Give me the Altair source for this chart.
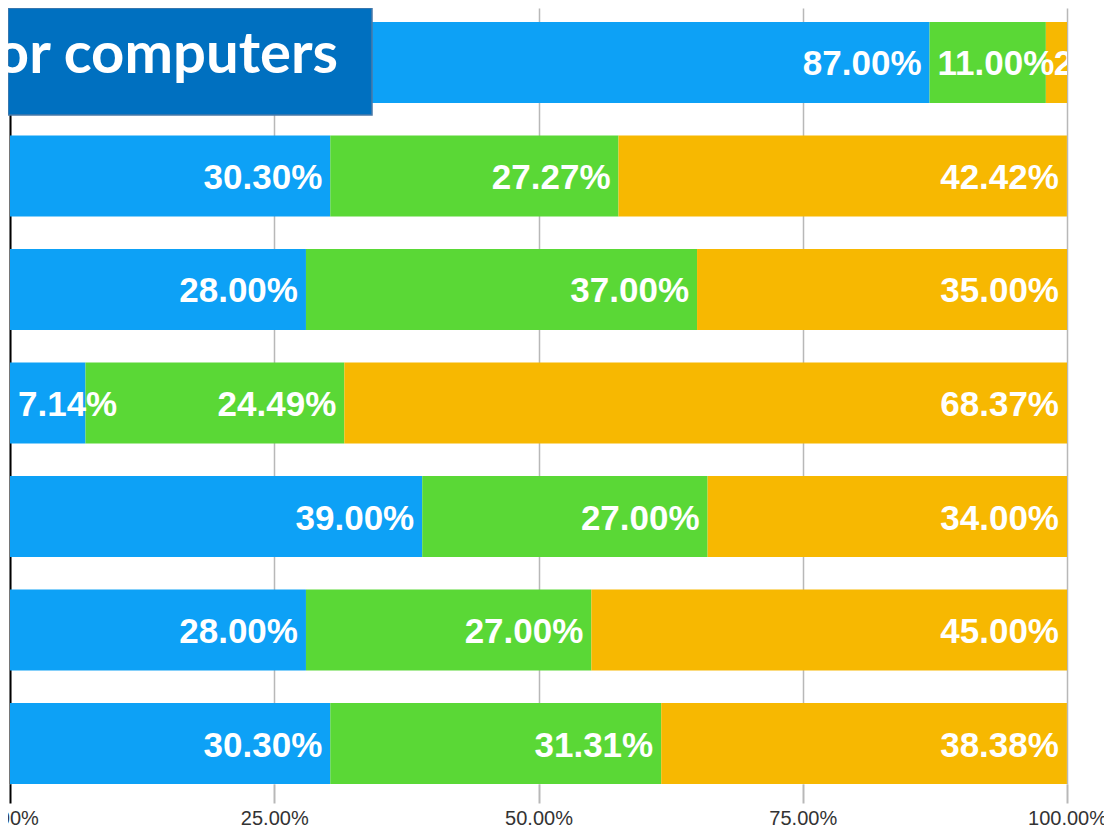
import altair as alt
import pandas as pd

rows = ["Row 1", "Row 2", "Row 3", "Row 4", "Row 5", "Row 6", "Row 7"]
series = ["A", "B", "C"]
vals_a = [87.00, 30.30, 28.00, 7.14, 39.00, 28.00, 30.30]
vals_b = [11.00, 27.27, 37.00, 24.49, 27.00, 27.00, 31.31]
vals_c = [2.00, 42.42, 35.00, 68.37, 34.00, 45.00, 38.38]
colors = ["#0DA1F6", "#5AD836", "#F7B801"]
tick_values = [0, 25, 50, 75, 100]
title_text = "or computers"

recs = []
for i, r in enumerate(rows):
    start = 0.0
    for s, arr in zip(series, [vals_a, vals_b, vals_c]):
        v = arr[i]
        recs.append({"row": r, "series": s, "value": v, "start": start,
                     "end": start + v, "label": f"{v:.2f}%"})
        start += v
df = pd.DataFrame(recs)

W, H = 1057, 776

xscale = alt.Scale(domain=[0, 100], nice=False, zero=True)
yscale = alt.Scale(paddingInner=0.287, paddingOuter=0.0616, align=1)

xaxis = alt.Axis(
    values=tick_values,
    labelExpr="format(datum.value, '.2f') + '%'",
    grid=True, gridColor="#b8b8b8", gridWidth=1.5,
    domain=False,
    tickColor={"condition": {"test": "datum.value === 0", "value": "#000000"}, "value": "#b8b8b8"},
    tickWidth=2, tickSize=19,
    labelFontSize=20, labelColor="#333333", labelFont="Liberation Sans",
    labelPadding=5, labelFlush=False, labelOverlap=False, title=None,
)
yaxis = alt.Axis(labels=False, ticks=False, title=None, grid=False,
                 domainColor="#000000", domainWidth=2)

bars = alt.Chart(df).mark_bar().encode(
    x=alt.X("start:Q", scale=xscale, axis=xaxis),
    x2="end:Q",
    y=alt.Y("row:N", sort=rows, scale=yscale, axis=yaxis),
    color=alt.Color("series:N", scale=alt.Scale(domain=series, range=colors), legend=None),
)

lab_font = dict(font="Liberation Sans", fontSize=35, fontWeight="bold", color="white", baseline="middle")

labels_right = alt.Chart(df).transform_filter("datum.value >= 13").mark_text(
    align="right", dx=-8, dy=2, **lab_font
).encode(
    x=alt.X("end:Q", scale=xscale),
    y=alt.Y("row:N", sort=rows),
    text="label:N",
)

labels_left = alt.Chart(df).transform_filter("datum.value < 13").mark_text(
    align="left", dx=8, dy=2, clip=True, **lab_font
).encode(
    x=alt.X("start:Q", scale=xscale),
    y=alt.Y("row:N", sort=rows),
    text="label:N",
)

title_df = pd.DataFrame({"t": [title_text]})
title_box = alt.Chart(title_df).mark_rect(
    color="#0070C0", stroke="#4a7aa8", strokeWidth=1.5
).encode(
    x=alt.value(-2), x2=alt.value(362), y=alt.value(0), y2=alt.value(107)
)
title_txt = alt.Chart(title_df).mark_text(
    align="right", baseline="middle", font="Lato", fontSize=58, fontWeight="bold", color="white"
).encode(
    x=alt.value(328), y=alt.value(48), text="t:N"
)

chart = alt.layer(bars, labels_right, labels_left, title_box, title_txt).properties(
    width=W, height=H,
    autosize=alt.AutoSizeParams(type="none"),
    padding={"left": 2, "top": 0, "right": 37, "bottom": 44},
).configure_view(stroke=None)

chart.save("out.html", embed_options={"renderer": "svg", "actions": False})
